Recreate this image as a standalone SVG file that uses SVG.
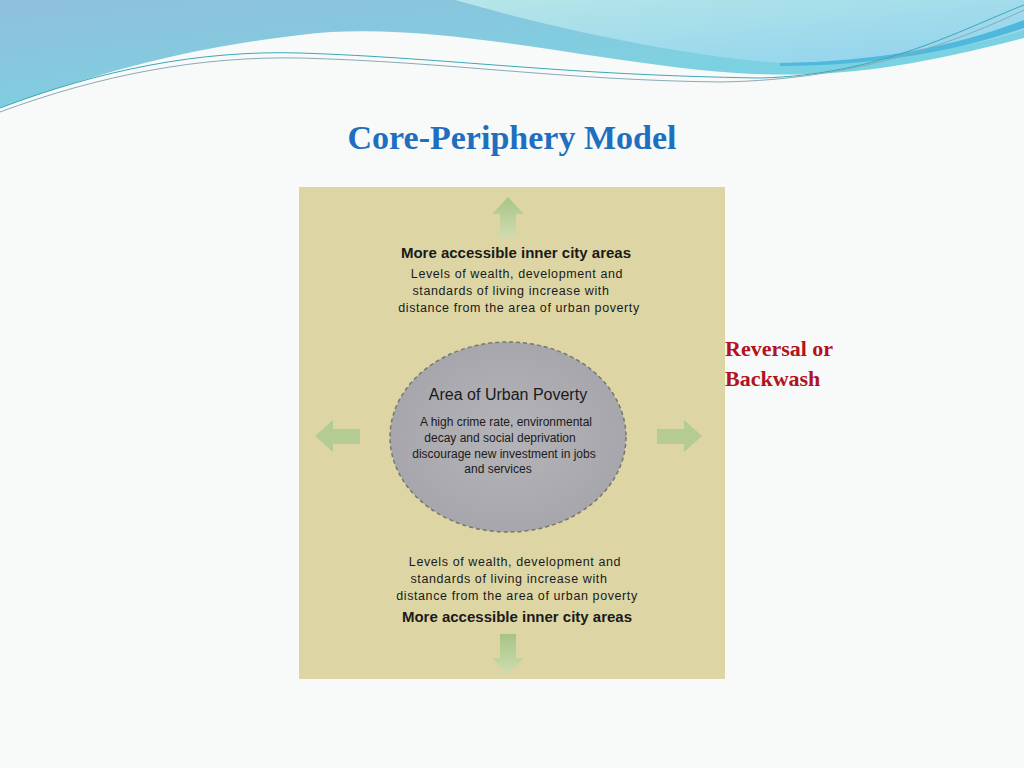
<svg xmlns="http://www.w3.org/2000/svg" width="1024" height="768" viewBox="0 0 1024 768">
<defs>
<linearGradient id="sky" x1="0" y1="0" x2="1" y2="1"><stop offset="0" stop-color="#8fbfdc"/><stop offset="0.6" stop-color="#7fd0e0"/><stop offset="1" stop-color="#6ad6e6"/></linearGradient>
<linearGradient id="cyan" x1="0" y1="0" x2="1" y2="1"><stop offset="0" stop-color="#b6e6e8"/><stop offset="1" stop-color="#8fd2ee"/></linearGradient>
<linearGradient id="arr" x1="0" y1="0" x2="0" y2="1"><stop offset="0" stop-color="#a7c487"/><stop offset="1" stop-color="#d0dcb0"/></linearGradient>
<radialGradient id="ell" cx="0.5" cy="0.5" r="0.5"><stop offset="0" stop-color="#b4b4b8"/><stop offset="1" stop-color="#a6a6ac"/></radialGradient>
<style>
.b{font-family:"Liberation Sans",Arial,sans-serif;fill:#1a1a1a;text-anchor:middle}
.h{font-size:15px}
.s{font-size:12.5px;letter-spacing:0.6px}
.c{font-size:12px}
.r{font-family:"Liberation Serif","Times New Roman",serif;font-weight:bold;font-size:22px;fill:#b0141e}
</style>
</defs>
<rect width="1024" height="768" fill="#f8f9f9"/>
<g id="header">
<path d="M0,0 H1024 V38 C900,70 820,82 700,70 C560,55 420,20 300,35 C170,50 80,80 0,108 Z" fill="url(#sky)"/>
<path d="M455,0 H1024 V30 C960,50 880,65 780,63 C680,55 560,30 455,0 Z" fill="url(#cyan)"/>
<path d="M780,63 C880,62 960,45 1024,20 V28 C960,50 880,66 780,66 Z" fill="#4fb8dc"/>
<path d="M0,108 C100,70 200,50 300,53 C450,58 560,75 760,78 C880,75 960,30 1024,5" fill="none" stroke="#3aa9b8" stroke-width="1"/>
<path d="M0,112 C100,75 200,56 300,58 C450,62 560,80 720,82 C860,80 960,40 1024,10" fill="none" stroke="#8aaab8" stroke-width="1"/>
</g>
<text x="512" y="149" font-family="Liberation Serif,serif" font-weight="bold" font-size="34" fill="#1f6fc0" text-anchor="middle">Core-Periphery Model</text>
<g id="panel">
<rect x="299" y="187" width="426" height="492" fill="#ddd6a4"/>
</g>
<g id="arrows">
<path d="M508,197 L524,214 H516 V238 H500 V214 H492 Z" fill="url(#arr)"/>
<path d="M508,675 L524,658 H516 V634 H500 V658 H492 Z" fill="url(#arr)" transform="rotate(0)"/>
<path d="M315,436 L333,420 V429 H360 V444 H333 V452 Z" fill="#b4cb94"/>
<path d="M702,436 L684,420 V429 H657 V444 H684 V452 Z" fill="#b4cb94"/>
</g>
<g id="top-text">
<text class="b h" x="516" y="258" font-weight="bold">More accessible inner city areas</text>
<text class="b s" x="517" y="278">Levels of wealth, development and</text>
<text class="b s" x="511" y="295">standards of living increase with</text>
<text class="b s" x="519" y="312">distance from the area of urban poverty</text>
</g>
<g id="core">
<ellipse cx="508" cy="437" rx="118" ry="95" fill="url(#ell)" stroke="#77776e" stroke-width="1.5" stroke-dasharray="4,3"/>
<text class="b" x="508" y="400" font-size="16">Area of Urban Poverty</text>
<text class="b c" x="506" y="426">A high crime rate, environmental</text>
<text class="b c" x="500" y="442">decay and social deprivation</text>
<text class="b c" x="504" y="458">discourage new investment in jobs</text>
<text class="b c" x="498" y="473">and services</text>
</g>
<g id="bottom-text">
<text class="b s" x="515" y="566">Levels of wealth, development and</text>
<text class="b s" x="509" y="583">standards of living increase with</text>
<text class="b s" x="517" y="600">distance from the area of urban poverty</text>
<text class="b h" x="517" y="622" font-weight="bold">More accessible inner city areas</text>
</g>
<text class="r" x="725" y="356">Reversal or</text>
<text class="r" x="725" y="386">Backwash</text>
</svg>
